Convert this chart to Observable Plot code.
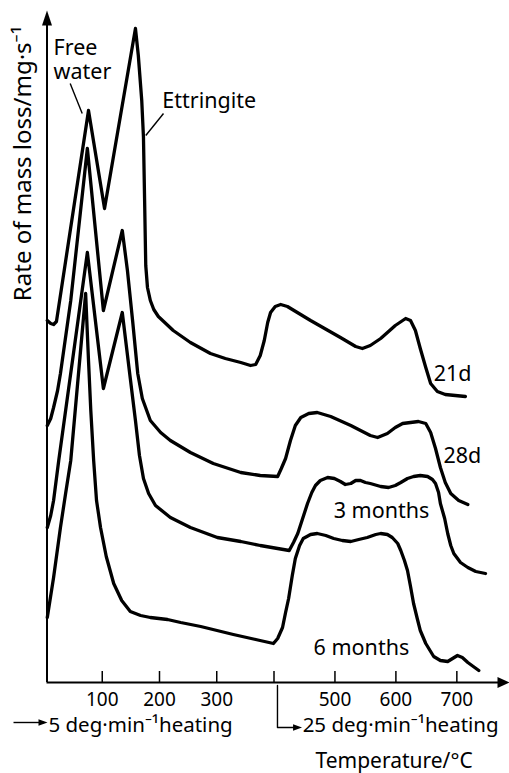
<!DOCTYPE html>
<html><head><meta charset="utf-8">
<script src="https://cdn.jsdelivr.net/npm/d3@7"></script>
<script src="https://cdn.jsdelivr.net/npm/@observablehq/plot@0.6"></script>
<style>html,body{margin:0;padding:0;background:#fff}</style>
</head><body><div id="chart"></div>
<script>
// Temperature (°C) vs rate of mass loss (arbitrary units, curves offset vertically)
const series21d = [[4,36.2],[10,35.9],[15,35.8],[20,36.1],[76,57.2],[104,47.4],[158,65.4],[163,62.7],[169,58.2],[172,54.5],[174,48.2],[176,41.7],[179,39.5],[184,38.2],[190,37.3],[198,36.6],[211,35.9],[224,35.2],[254,34.0],[289,32.9],[315,32.4],[342,32.0],[359,31.7],[368,31.8],[376,32.7],[383,34.2],[389,36.0],[394,37.0],[402,37.6],[411,37.8],[422,37.6],[460,36.2],[509,34.5],[534,33.6],[545,33.4],[558,33.7],[575,34.4],[599,35.7],[616,36.4],[624,36.2],[632,35.2],[640,33.4],[649,31.5],[657,29.9],[668,29.1],[681,28.8],[714,28.6]];
const series28d = [[4,25.7],[10,26.4],[15,27.5],[22,29.2],[27,30.9],[45,38.2],[74,53.4],[102,37.2],[135,45.2],[144,41.2],[153,36.2],[162,30.9],[170,28.4],[184,26.2],[202,25.0],[219,24.2],[254,23.0],[294,21.9],[342,21.0],[376,20.7],[406,20.6],[412,21.4],[419,22.4],[427,24.2],[435,25.7],[444,26.5],[457,26.9],[471,27.0],[493,26.6],[526,25.7],[558,24.7],[570,24.5],[586,24.9],[599,25.5],[611,25.9],[637,26.1],[649,25.9],[657,25.0],[665,23.4],[673,21.5],[681,20.0],[690,18.9],[703,18.2],[718,17.8]];
const series3m = [[4,15.5],[10,16.7],[15,18.2],[24,22.2],[74,43.0],[102,29.4],[135,37.0],[142,33.7],[149,30.4],[158,26.2],[165,22.7],[172,20.4],[181,18.9],[193,17.7],[219,16.5],[254,15.5],[301,14.5],[342,14.1],[376,13.7],[425,13.2],[432,14.0],[439,14.9],[447,16.4],[455,17.9],[462,19.0],[468,19.7],[476,20.2],[488,20.5],[499,20.4],[509,20.1],[517,19.8],[526,19.9],[534,20.2],[542,20.2],[550,20.0],[558,19.9],[575,19.6],[588,19.5],[599,19.7],[608,20.0],[619,20.4],[629,20.6],[640,20.7],[652,20.6],[660,20.3],[665,19.9],[670,19.0],[673,17.9],[680,16.4],[685,14.9],[690,13.7],[695,12.9],[706,12.0],[718,11.5],[731,11.1],[747,10.9]];
const series6m = [[4,6.5],[15,10.5],[27,15.5],[36,18.9],[45,22.2],[71,38.9],[76,32.2],[80,27.2],[85,22.2],[90,18.2],[97,15.5],[107,12.6],[120,9.9],[134,8.2],[149,7.1],[167,6.7],[184,6.5],[214,6.3],[237,6.0],[272,5.6],[329,4.8],[368,4.3],[399,3.9],[406,4.4],[414,5.5],[419,7.0],[424,8.4],[430,10.7],[435,12.4],[442,13.7],[448,14.4],[460,14.8],[471,14.9],[485,14.7],[498,14.4],[512,14.2],[526,14.1],[539,14.3],[553,14.5],[567,14.8],[575,14.9],[586,14.8],[594,14.5],[603,13.9],[608,13.2],[614,12.2],[619,11.2],[624,9.6],[629,7.9],[635,6.4],[640,5.2],[649,3.9],[662,2.6],[673,2.2],[685,2.1],[693,2.4],[701,2.7],[709,2.5],[718,2.0],[727,1.6],[736,1.2]];

const seriesNames = ["21d", "28d", "3 months", "6 months"];
const seriesData = [series21d, series28d, series3m, series6m];

const xTicks = [100, 200, 300, 400, 500, 600, 700];
const xTickLabels = [100, 200, 300, 500, 600, 700];

const curveLabels = [
  {text: "Free\nwater", t: 15, r: 60.4},
  {text: "Ettringite", t: 205, r: 57.5},
  {text: "21d", t: 662, r: 30.2},
  {text: "28d", t: 678, r: 22.0},
  {text: "3 months", t: 498, r: 16.5},
  {text: "6 months", t: 465, r: 2.8}
];
const leaders = [
  {t1: 44, r1: 59.9, t2: 65, r2: 56.9},
  {t1: 207, r1: 56.9, t2: 176, r2: 54.7}
];
const yLabel = "Rate of mass loss/mg·s⁻¹";
const xLabel = "Temperature/°C";
const heatingLabels = [
  {text: "5 deg·min⁻¹heating", t: 6, r: -4.95},
  {text: "25 deg·min⁻¹heating", t: 447, r: -4.95}
];

// build table
const rows = [];
seriesData.forEach((s, i) => s.forEach(([t, r]) => rows.push({series: seriesNames[i], t, r})));

// the temperature axis changes heating rate at 400 °C: two linear pieces
const xStart = 3.5, xBreak = 400;
const piece = T => T < xBreak ? 46.5 + (T - xStart) * 0.5725 : 273.5 + (T - xBreak) * 0.6095;

const arrowUpBig = {draw(ctx) { ctx.moveTo(0, 0); ctx.lineTo(-5, 15); ctx.lineTo(5, 15); ctx.closePath(); }};
const arrowBig = {draw(ctx) { ctx.moveTo(0, 0); ctx.lineTo(-5.5, 12); ctx.lineTo(5.5, 12); ctx.closePath(); }};
const arrowSmall = {draw(ctx) { ctx.moveTo(0, 0); ctx.lineTo(-3.2, 9); ctx.lineTo(3.2, 9); ctx.closePath(); }};

const chart = Plot.plot({
  width: 509,
  height: 773,
  marginTop: 0, marginBottom: 0, marginLeft: 0, marginRight: 0,
  style: {fontFamily: "'Noto Sans', 'DejaVu Sans', sans-serif", background: "#fff", color: "#000"},
  x: {type: "linear", transform: piece, domain: [0, 509], range: [0, 509], axis: null},
  y: {domain: [0, 67], range: [682, 12], axis: null},
  marks: [
    // axes
    Plot.ruleX([xStart], {x: d => d, y1: () => 0, y2: () => 66, stroke: "#000", strokeWidth: 2}),
    Plot.ruleY([0], {y: d => d, x1: () => xStart, x2: () => 780, stroke: "#000", strokeWidth: 2}),
    Plot.dot([0], {x: () => xStart, y: () => 67.2, symbol: arrowUpBig, fill: "#000", stroke: "none"}),
    Plot.dot([0], {x: () => 786.4, y: () => 0, symbol: arrowBig, rotate: 90, fill: "#000", stroke: "none"}),
    Plot.ruleX(xTicks, {x: d => d, y1: () => 0, y2: () => 1.1, stroke: "#000", strokeWidth: 1.5}),
    Plot.text(xTickLabels, {x: d => d, y: () => -2.35, text: d => String(d), lineAnchor: "bottom", fontSize: 19, fill: "#000"}),
    // curves
    Plot.line(rows, {x: "t", y: "r", z: "series", stroke: "#000", strokeWidth: 3.3, strokeLinejoin: "round", strokeLinecap: "round"}),
    // annotations
    Plot.link(leaders, {x1: "t1", y1: "r1", x2: "t2", y2: "r2", stroke: "#000", strokeWidth: 1.4}),
    Plot.text(curveLabels, {x: "t", y: "r", text: "text", textAnchor: "start", lineAnchor: "bottom", lineHeight: 1.1, fontSize: 21.5, fill: "#000"}),
    Plot.text([yLabel], {x: () => xStart, y: () => 51.9, text: d => d, rotate: -90, dx: -24, lineAnchor: "middle", fontSize: 24, fill: "#000"}),
    Plot.text(heatingLabels, {x: "t", y: "r", text: "text", textAnchor: "start", lineAnchor: "bottom", fontSize: 20.5, fill: "#000"}),
    Plot.text([xLabel], {x: () => 468, y: () => -8.5, text: d => d, textAnchor: "start", lineAnchor: "bottom", fontSize: 21, fill: "#000"}),
    // heating-rate arrows
    Plot.link([0], {x1: () => -55, y1: () => -4.0, x2: () => -2, y2: () => -4.0, stroke: "#000", strokeWidth: 1.4}),
    Plot.dot([0], {x: () => 4.4, y: () => -4.0, symbol: arrowSmall, rotate: 90, fill: "#000", stroke: "none"}),
    Plot.line([[405.7, -0.3], [405.7, -4.5], [432, -4.5]], {x: d => d[0], y: d => d[1], stroke: "#000", strokeWidth: 1.4}),
    Plot.dot([0], {x: () => 446, y: () => -4.5, symbol: arrowSmall, rotate: 90, fill: "#000", stroke: "none"})
  ]
});
document.getElementById("chart").append(chart);
</script></body></html>
